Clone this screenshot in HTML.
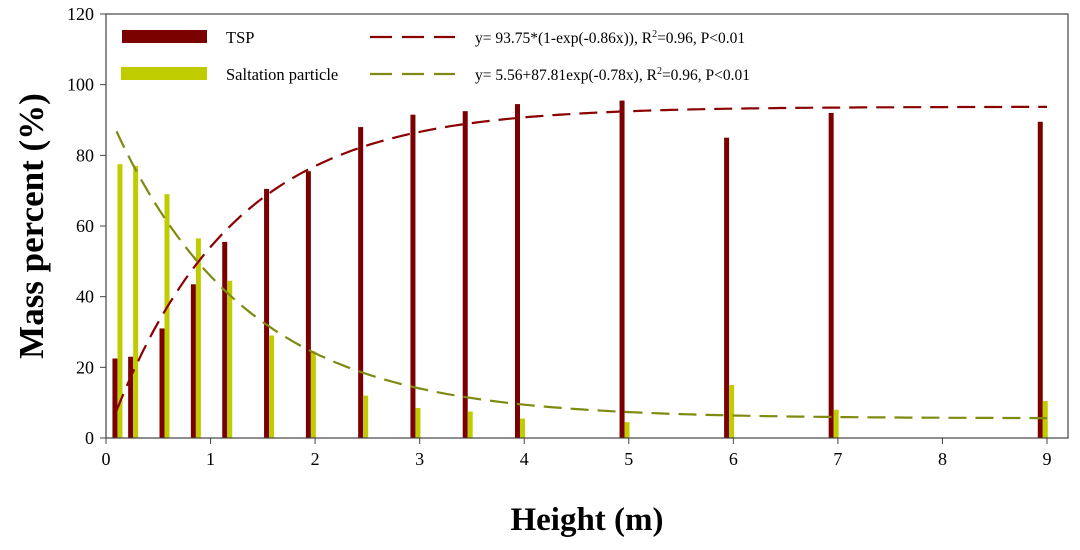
<!DOCTYPE html>
<html><head><meta charset="utf-8"><style>
body{margin:0;background:#fff;width:1080px;height:545px;overflow:hidden}
text{font-family:"Liberation Serif",serif}
</style></head><body>
<svg id="chart" width="1080" height="545" xmlns="http://www.w3.org/2000/svg"></svg>
<script>
const heights=[0.1,0.25,0.55,0.85,1.15,1.55,1.95,2.45,2.95,3.45,3.95,4.95,5.95,6.95,8.95];
const tspValues=[22.5,23,31,43.5,55.5,70.5,75.5,88,91.5,92.5,94.5,95.5,85,92,89.5];
const saltValues=[77.5,77,69,56.5,44.5,29,24.5,12,8.5,7.5,5.5,4.5,15,8,10.5];
const xTicks=[0,1,2,3,4,5,6,7,8,9];
const yTicks=[0,20,40,60,80,100,120];
const tspFit=[93.75,0.86];
const saltFit=[5.56,87.81,0.78];

const svg=document.getElementById('chart');
const NS='http://www.w3.org/2000/svg';
const L=106,R=1068,T=14,B=438;
const x=v=>106+v*(1047-106)/9;
const y=v=>B-v*(B-T)/120;
function mk(tag,attrs,parent){const e=document.createElementNS(NS,tag);for(const k in attrs)e.setAttribute(k,attrs[k]);(parent||svg).appendChild(e);return e;}

heights.forEach((h,i)=>{
  const b=mk('rect',{x:x(h)+1-5,y:y(tspValues[i]),width:5,height:B-y(tspValues[i]),fill:'#7b0000'});
  
  
  const s=mk('rect',{x:x(h)+1,y:y(saltValues[i]),width:5,height:B-y(saltValues[i]),fill:'#bfcc00'});
  
  
});

let p1='',p2='';
for(let v=0.1;v<=9.0001;v+=0.05){
  const a=tspFit[0]*(1-Math.exp(-tspFit[1]*v));
  const c=saltFit[0]+saltFit[1]*Math.exp(-saltFit[2]*v);
  p1+=(p1?'L':'M')+x(v).toFixed(1)+','+y(a).toFixed(1);
  p2+=(p2?'L':'M')+x(v).toFixed(1)+','+y(c).toFixed(1);
}
const c1=mk('path',{d:p1,fill:'none',stroke:'#8b0000','stroke-width':2.2,'stroke-dasharray':'18,9'});


const c2=mk('path',{d:p2,fill:'none',stroke:'#7f8a10','stroke-width':2.2,'stroke-dasharray':'18,9'});



const frame=mk('rect',{x:L,y:T,width:R-L,height:B-T,fill:'none',stroke:'#444','stroke-width':1.2});



xTicks.forEach(t=>{
  mk('line',{x1:x(t),x2:x(t),y1:B,y2:B+6,stroke:'#444'});
  const tx=mk('text',{x:x(t),y:B+27,'text-anchor':'middle','font-size':18,fill:'#000'});
  tx.textContent=t;
  
  
});
yTicks.forEach(t=>{
  mk('line',{x1:L-6,x2:L,y1:y(t),y2:y(t),stroke:'#444'});
  const tx=mk('text',{x:L-12,y:y(t)+6,'text-anchor':'end','font-size':18,fill:'#000'});
  tx.textContent=t;
  
  
});
</script>
<svg style="position:absolute;left:0;top:0" width="1080" height="545" xmlns="http://www.w3.org/2000/svg">
<g>
<rect x="122" y="30" width="85" height="13" fill="#7b0000"/>
<text x="226" y="43" font-size="16.5" font-family="Liberation Serif,serif">TSP</text>
<rect x="121" y="67" width="86" height="13" fill="#bfcc00"/>
<text x="226" y="80" font-size="16.5" font-family="Liberation Serif,serif">Saltation particle</text>
<line x1="370" y1="37" x2="455" y2="37" stroke="#8b0000" stroke-width="2.2" stroke-dasharray="22,10"/>
<line x1="370" y1="74" x2="455" y2="74" stroke="#7f8a10" stroke-width="2.2" stroke-dasharray="22,10"/>
<text x="475" y="43" font-size="15.5" font-family="Liberation Serif,serif">y= 93.75*(1-exp(-0.86x)), R<tspan dy="-6" font-size="10">2</tspan><tspan dy="6">=0.96, P&lt;0.01</tspan></text>
<text x="475" y="80" font-size="15.5" font-family="Liberation Serif,serif">y= 5.56+87.81exp(-0.78x), R<tspan dy="-6" font-size="10">2</tspan><tspan dy="6">=0.96, P&lt;0.01</tspan></text>
</g>
<text x="587" y="530" text-anchor="middle" font-size="33" font-weight="bold" font-family="Liberation Serif,serif">Height (m)</text>
<text transform="translate(43,226) rotate(-90)" text-anchor="middle" font-size="35" font-weight="bold" font-family="Liberation Serif,serif">Mass percent (%)</text>
</svg>
</body></html>
